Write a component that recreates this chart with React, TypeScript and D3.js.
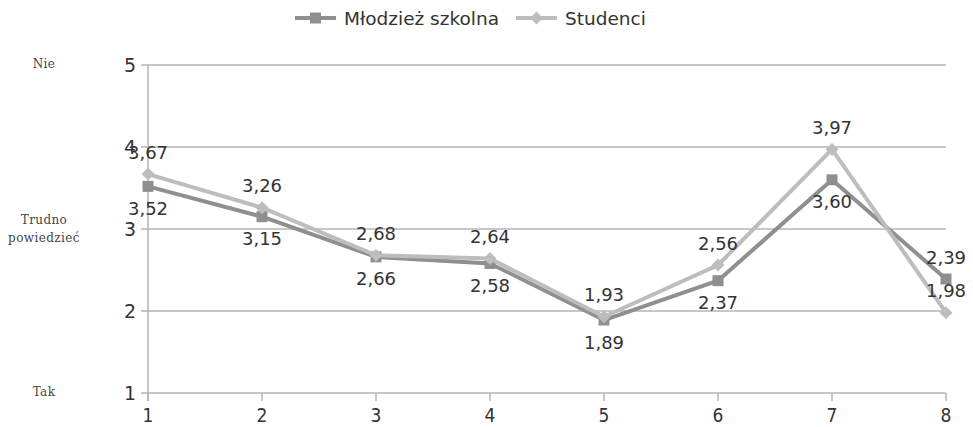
import React from "react";
import * as d3 from "d3";

const categories = [1, 2, 3, 4, 5, 6, 7, 8];
const mlodziez = [3.52, 3.15, 2.66, 2.58, 1.89, 2.37, 3.6, 2.39];
const studenci = [3.67, 3.26, 2.68, 2.64, 1.93, 2.56, 3.97, 1.98];
// label placement: true = above point
const mlodziezAbove = [false, false, false, false, false, false, false, true];
const yTicks = [1, 2, 3, 4, 5];
const sideLabels = [
  { v: 5, lines: ["Nie"] },
  { v: 3, lines: ["Trudno", "powiedzieć"] },
  { v: 1, lines: ["Tak"] },
];
const seriesNames = ["Młodzież szkolna", "Studenci"];

const W = 973;
const H = 427;
const DARK = "#8f8f8f";
const LIGHT = "#bdbdbd";
const GRID = "#b4b4b4";
const TEXT = "#333";
const FONT = "DejaVu Sans, sans-serif";

export default function App() {
  const x = d3.scaleLinear().domain([1, 8]).range([148, 946]);
  const y = d3.scaleLinear().domain([1, 5]).range([393, 65]);
  const line = d3
    .line<number>()
    .x((_, i) => x(categories[i]))
    .y((d) => y(d));
  const fmt = (v: number) => v.toFixed(2).replace(".", ",");

  const diamond = (cx: number, cy: number, r: number) =>
    `M${cx},${cy - r}L${cx + r},${cy}L${cx},${cy + r}L${cx - r},${cy}Z`;

  return (
    <svg
      width={W}
      height={H}
      style={{ position: "absolute", left: 0, top: 0, background: "#fff" }}
    >
      {/* grid */}
      {yTicks.map((t) => (
        <g key={t}>
          <line x1={141} x2={946} y1={y(t)} y2={y(t)} stroke={GRID} strokeWidth={1.5} />
          <text
            x={136}
            y={y(t)}
            dy="0.36em"
            textAnchor="end"
            fontFamily={FONT}
            fontSize={19}
            fill={TEXT}
          >
            {t}
          </text>
        </g>
      ))}
      {/* y axis */}
      <line x1={148} x2={148} y1={65} y2={401} stroke={GRID} strokeWidth={1.5} />
      {/* x ticks */}
      {categories.map((c) => (
        <g key={c}>
          <line x1={x(c)} x2={x(c)} y1={393} y2={401} stroke={GRID} strokeWidth={1.5} />
          <text
            x={x(c)}
            y={422}
            textAnchor="middle"
            fontFamily="DejaVu Sans Condensed, DejaVu Sans, sans-serif"
            fontSize={19}
            fill={TEXT}
          >
            {c}
          </text>
        </g>
      ))}
      {/* side labels */}
      {sideLabels.map((s) => (
        <text
          key={s.v}
          x={44}
          y={y(s.v) - (s.lines.length === 1 ? 1 : 9)}
          textAnchor="middle"
          fontFamily="DejaVu Serif, serif"
          fontSize={12}
          letterSpacing={0.4}
          fill="#444"
        >
          {s.lines.map((l, i) => (
            <tspan key={i} x={44} dy={i === 0 ? "0.35em" : "1.45em"}>
              {l}
            </tspan>
          ))}
        </text>
      ))}
      {/* lines */}
      <path d={line(mlodziez) || ""} fill="none" stroke={DARK} strokeWidth={4} strokeLinejoin="round" />
      {mlodziez.map((v, i) => (
        <rect key={i} x={x(categories[i]) - 5.5} y={y(v) - 5.5} width={11} height={11} fill={DARK} />
      ))}
      <path d={line(studenci) || ""} fill="none" stroke={LIGHT} strokeWidth={4} strokeLinejoin="round" />
      {studenci.map((v, i) => (
        <path key={i} d={diamond(x(categories[i]), y(v), 6.5)} fill={LIGHT} />
      ))}
      {/* value labels */}
      {mlodziez.map((v, i) => (
        <text
          key={"m" + i}
          x={x(categories[i])}
          y={y(v) + (mlodziezAbove[i] ? -22 : 22)}
          dy="0.36em"
          textAnchor="middle"
          fontFamily={FONT}
          fontSize={18}
          fill={TEXT}
        >
          {fmt(v)}
        </text>
      ))}
      {studenci.map((v, i) => (
        <text
          key={"s" + i}
          x={x(categories[i])}
          y={y(v) - 22}
          dy="0.36em"
          textAnchor="middle"
          fontFamily={FONT}
          fontSize={18}
          fill={TEXT}
        >
          {fmt(v)}
        </text>
      ))}
      {/* legend */}
      <g>
        <line x1={295} x2={336} y1={18} y2={18} stroke={DARK} strokeWidth={4} />
        <rect x={310} y={12.5} width={11} height={11} fill={DARK} />
        <text x={344} y={18} dy="0.36em" fontFamily={FONT} fontSize={18.5} fill={TEXT}>
          {seriesNames[0]}
        </text>
        <line x1={516} x2={557} y1={18} y2={18} stroke={LIGHT} strokeWidth={4} />
        <path d={diamond(536.5, 18, 6.5)} fill={LIGHT} />
        <text x={565} y={18} dy="0.36em" fontFamily={FONT} fontSize={18.5} fill={TEXT}>
          {seriesNames[1]}
        </text>
      </g>
    </svg>
  );
}
